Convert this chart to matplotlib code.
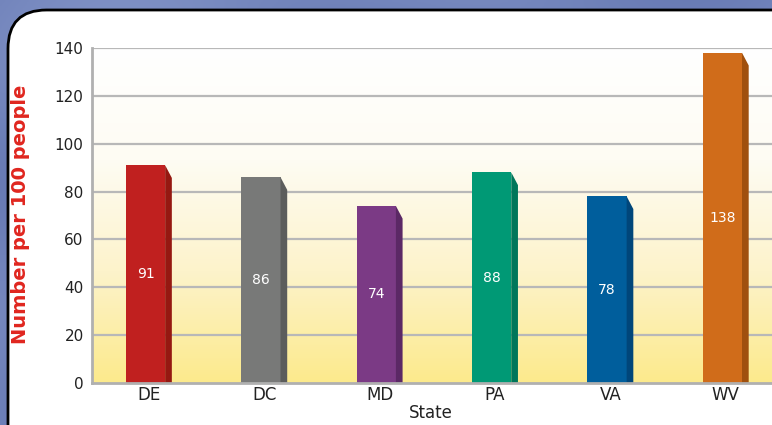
import numpy as np
import matplotlib
matplotlib.use("Agg")
import matplotlib.pyplot as plt
from matplotlib.patches import Polygon, FancyBboxPatch, Rectangle
from matplotlib.colors import LinearSegmentedColormap

states = ["DE", "DC", "MD", "PA", "VA", "WV"]
values = [91, 86, 74, 88, 78, 138]
face_colors = ["#c0201f", "#787978", "#7b3a85", "#009975", "#005e9c", "#d06c1a"]
side_colors = ["#951811", "#5c5d5c", "#5b2865", "#00765a", "#00467a", "#a0500e"]
yticks = [0, 20, 40, 60, 80, 100, 120, 140]

W, H = 772, 425
fig = plt.figure(figsize=(W / 100, H / 100), dpi=100)

# background texture-ish gradient
bg = fig.add_axes([0, 0, 1, 1], zorder=-10)
bg.set_axis_off()
yy, xx = np.mgrid[0:1:200j, 0:1:400j]
grad = 0.5 + 0.25 * np.sin(xx * 9 + yy * 4) * np.cos(yy * 7 - xx * 3)
bgcmap = LinearSegmentedColormap.from_list("b", ["#5d70ad", "#8a9bcc"])
bg.imshow(grad, cmap=bgcmap, extent=[0, 1, 0, 1], aspect="auto", vmin=0, vmax=1)
bg.set_xlim(0, 1)
bg.set_ylim(0, 1)
panel = FancyBboxPatch((8 / W, -40 / H), (W + 60) / W, (H - 10 + 40) / H,
                       boxstyle="round,pad=0,rounding_size=0.05",
                       transform=bg.transAxes, facecolor="white",
                       edgecolor="black", linewidth=2, mutation_aspect=W / H)
bg.add_patch(panel)

ax = fig.add_axes([92 / W, (H - 383) / H, (W - 92) / W, (383 - 48) / H])
ax.set_xlim(-0.464, 5.43)
ax.set_ylim(0, 140)

# plot gradient background
gcmap = LinearSegmentedColormap.from_list("g", ["#fcea8c", "#fdf3cb", "#fefcf3", "#ffffff"])
ax.imshow(np.linspace(0, 1, 256).reshape(-1, 1), cmap=gcmap, origin="lower",
          extent=[-0.464, 5.43, 0, 140], aspect="auto", zorder=0)

for yv in yticks[1:]:
    ax.axhline(yv, color="#b8b8b8", lw=1.6, zorder=1)

bw = 0.34
dx = 0.058
dy = 5.3
x = np.arange(len(states))
for xi, v, fc, sc in zip(x, values, face_colors, side_colors):
    left = xi - bw / 2
    right = xi + bw / 2
    ax.add_patch(Rectangle((left, 0), bw, v, facecolor=fc, edgecolor="none", zorder=3))
    ax.add_patch(Polygon([(right, 0), (right, v), (right + dx, v - dy), (right + dx, 0)],
                         closed=True, facecolor=sc, edgecolor="none", zorder=3))
    ax.text(xi, v / 2, str(v), color="white", ha="center", va="center",
            fontsize=10, zorder=4, family="DejaVu Sans")

ax.set_xticks(x + 0.03)
ax.set_xticklabels(states, fontsize=12, color="#222222")
ax.set_yticks(yticks)
ax.set_yticklabels([str(t) for t in yticks], fontsize=11, color="#222222")
ax.tick_params(axis="both", length=0, pad=6)
ax.tick_params(axis="x", pad=2)

for s in ["top", "right"]:
    ax.spines[s].set_visible(False)
ax.spines["left"].set_color("#b0b0b0")
ax.spines["left"].set_linewidth(2)
ax.spines["bottom"].set_color("#b0b0b0")
ax.spines["bottom"].set_linewidth(2)
ax.spines["left"].set_zorder(5)
ax.spines["bottom"].set_zorder(5)

ax.set_xlabel("State", fontsize=12, color="#222222", labelpad=0)
ax.xaxis.set_label_coords((431 - 92) / (W - 92), -(404 - 383) / (383 - 48))
ax.set_ylabel("Number per 100 people", fontsize=14, fontweight="bold",
              color="#e0261f", labelpad=10)
ax.yaxis.set_label_coords(-(92 - 30) / (W - 92), (383 - 214) / (383 - 48))

fig.savefig("out.png", dpi=100)
